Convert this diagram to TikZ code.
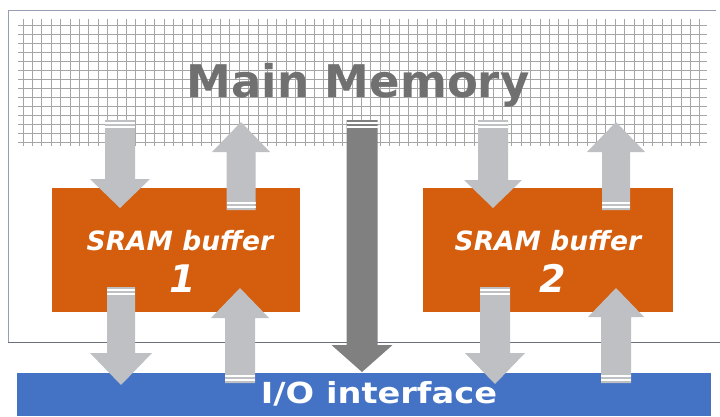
\documentclass[tikz,border=0pt]{standalone}
\usepackage{fontspec}
\setmainfont{DejaVu Sans}
\definecolor{orng}{RGB}{212,94,14}
\definecolor{iob}{RGB}{68,114,196}
\definecolor{arrl}{RGB}{190,192,196}
\definecolor{arrd}{RGB}{128,128,128}
\definecolor{gridc}{RGB}{165,165,165}
\definecolor{framec}{RGB}{150,158,180}
\definecolor{memtxt}{RGB}{112,112,112}
\newcommand\blockarrow[9]{%
  \fill[#7] (#1-#5,#2) -- (#1+#5,#2) -- (#1+#5,#3) -- (#1+#6,#3) -- (#1,#4)
    -- (#1-#6,#3) -- (#1-#5,#3) -- cycle;
  \draw[white,line width=1.1pt] (#1-#5,#8) -- (#1+#5,#8);
  \draw[white,line width=1.1pt] (#1-#5,#9) -- (#1+#5,#9);
}
\begin{document}
\begin{tikzpicture}[x=1pt,y=-1pt,
  gridline/.style={gridc,line width=0.75pt},
  buf/.style={fill=orng,inner sep=0pt},
  buftxt/.style={anchor=base,text=white,font=\bfseries\itshape\fontsize{26.5}{26.5}\selectfont},
  bufnum/.style={anchor=base,text=white,font=\bfseries\itshape\fontsize{38}{38}\selectfont},
]
\useasboundingbox (0,0) rectangle (720,416);
\fill[white] (0,0) rectangle (720,416);
% main memory grid
\node[minimum width=690pt,minimum height=127pt,inner sep=0pt] (mem) at (363,83) {};
\foreach \i in {0,...,72}{
  \draw[gridline] (23+\i*9.4,19) -- (23+\i*9.4,146);
}
\foreach \j in {0,...,13}{
  \draw[gridline] (18,25+\j*9) -- (707,25+\j*9);
}
\node[anchor=base,text=memtxt,font=\bfseries\fontsize{45}{45}\selectfont] (memtitle) at (358,97) {Main Memory};
% buffers
\node[buf,minimum width=248pt,minimum height=124pt] (buf1) at (176,250) {};
\node[buf,minimum width=250pt,minimum height=124pt] (buf2) at (548,250) {};
% I/O bar
\node[fill=iob,minimum width=694pt,minimum height=43pt,inner sep=0pt] (io) at (364,394.5) {};
% frame
\draw[framec,line width=0.9pt] (8,10) -- (716,10);
\draw[framec,line width=0.9pt] (8,10) -- (8,342);
\draw[framec!70!black,line width=0.9pt] (8,342) -- (720,342);
% arrows
\blockarrow{120}{120}{179}{208}{15}{30}{arrl}{123}{127}
\blockarrow{241}{210}{152}{122}{14.5}{29}{arrl}{207}{203}
\blockarrow{121}{287}{353}{385}{14}{31}{arrl}{290}{294}
\blockarrow{240}{383}{318}{288}{15}{29}{arrl}{380}{376}
\blockarrow{493}{120}{180}{208}{15}{29}{arrl}{123}{127}
\blockarrow{616}{210}{152}{122}{14}{29}{arrl}{207}{203}
\blockarrow{495}{287}{353}{384}{15}{30}{arrl}{290}{294}
\blockarrow{616}{383}{317}{288}{15}{28}{arrl}{380}{376}
\blockarrow{362}{120}{345}{372}{15.5}{30.5}{arrd}{123}{127}
% texts
\node[buftxt] (t1) at (180,250) {SRAM buffer};
\node[bufnum] (n1) at (183,292) {1};
\node[buftxt] (t2) at (548,250) {SRAM buffer};
\node[bufnum] (n2) at (553,292) {2};
\node[anchor=base,text=white,font=\bfseries\fontsize{29}{29}\selectfont] (iotxt) at (379,403) {\scalebox{1.16}[1]{I/O interface}};
\end{tikzpicture}
\end{document}
